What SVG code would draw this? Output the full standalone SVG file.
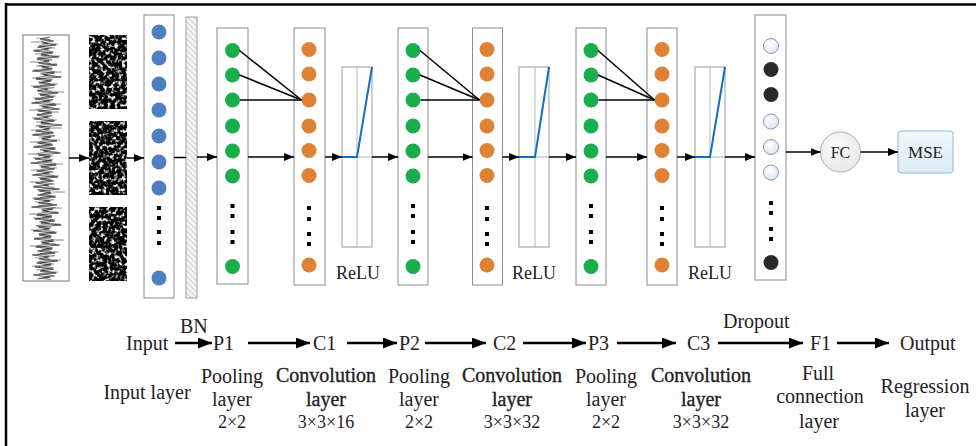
<svg xmlns="http://www.w3.org/2000/svg" xmlns:xlink="http://www.w3.org/1999/xlink" width="976" height="446" viewBox="0 0 976 446">
<style>
.col{fill:#fff;stroke:#8c8c8c;stroke-width:1}
.relu{fill:#fff;stroke:#9a9a9a;stroke-width:1}
.axis{stroke:#b5b5b5;stroke-width:1;fill:none}
.rl{stroke:#1170c4;stroke-width:2;fill:none}
.blue{fill:#4f7fc0}
.green{fill:#1aad4b}
.orange{fill:#df8236}
.wd{fill:url(#wg);stroke:#8898b4;stroke-width:1}
.bd{fill:#2a2a2a}
.dot{fill:#000}
.ln{stroke:#000;stroke-width:1.5;fill:none}
.ar{stroke:#000;stroke-width:1.5;fill:none;marker-end:url(#ah)}
.br{stroke:#000;stroke-width:2.5;fill:none;marker-end:url(#ahb)}
text{font-family:"Liberation Serif","Times New Roman",serif;fill:#222}
.t20{font-size:20px}
.t18{font-size:18px}
.bold{font-size:20px;stroke:#222;stroke-width:0.35}
.c{text-anchor:middle}
</style>
<defs>
<marker id="ah" markerUnits="userSpaceOnUse" markerWidth="10" markerHeight="8" refX="10" refY="4" orient="auto"><path d="M0,0 L10,4 L0,8 z" fill="#000"/></marker>
<marker id="ahb" markerUnits="userSpaceOnUse" markerWidth="14" markerHeight="11" refX="14" refY="5.5" orient="auto"><path d="M0,0 L14,5.5 L0,11 z" fill="#000"/></marker>
<radialGradient id="wg" cx="0.4" cy="0.35" r="0.7"><stop offset="0" stop-color="#ffffff"/><stop offset="1" stop-color="#dbe4f2"/></radialGradient>
<radialGradient id="fcg" cx="0.4" cy="0.35" r="0.75"><stop offset="0" stop-color="#fbfbfb"/><stop offset="1" stop-color="#e6e6e6"/></radialGradient>
<linearGradient id="mseg" x1="0" y1="0" x2="0" y2="1"><stop offset="0" stop-color="#f1f8fb"/><stop offset="1" stop-color="#d9ecf4"/></linearGradient>
<pattern id="hatch" patternUnits="userSpaceOnUse" width="4" height="4" patternTransform="rotate(-45)"><rect width="4" height="4" fill="#f4f4f4"/><line x1="0" y1="0" x2="0" y2="4" stroke="#b8b8b8" stroke-width="1.2"/></pattern>
<filter id="speckle" x="0" y="0" width="1" height="1" color-interpolation-filters="sRGB">
<feTurbulence type="fractalNoise" baseFrequency="0.27" numOctaves="2" seed="5" result="n"/>
<feColorMatrix in="n" type="matrix" values="4 0 0 0 -1.95  4 0 0 0 -1.95  4 0 0 0 -1.95  0 0 0 0 1" result="m"/>
<feComposite in="m" in2="SourceGraphic" operator="in"/>
</filter>
<path id="wave" d="M51,37 L39,39 55,41 42,43 58,45 36,47 49,49 32,51 54,53 40,55 61,57 35,59 50,61 37,63 59,65 41,67 53,69 30,71 56,73 43,75 64,77 34,79 52,81 38,83 57,85 31,87 48,89 36,91 60,93 39,95 55,97 33,99 51,101 29,103 58,105 42,107 62,109 37,111 53,113 35,115 49,117 32,119 56,121 40,123 65,125 38,127 50,129 34,131 55,133 30,135 52,137 41,139 59,141 36,143 54,145 31,147 57,149 43,151 63,153 37,155 51,157 33,159 53,161 28,163 58,165 40,167 56,169 35,171 50,173 30,175 60,177 39,179 55,181 34,183 49,185 31,187 62,189 38,191 52,193 36,195 57,197 32,199 51,201 37,203 59,205 29,207 54,209 42,211 61,213 35,215 53,217 33,219 56,221 40,223 64,225 37,227 50,229 31,231 58,233 38,235 52,237 32,239 55,241 41,243 62,245 34,247 53,249 36,251 57,253 30,255 49,257 38,259 60,261 35,263 52,265 33,267 55,269 39,271 58,273 31,275 51,277 36,279"/>
</defs>
<rect width="976" height="446" fill="#fff"/>
<g id="frame"><line x1="5" y1="4.5" x2="976" y2="4.5" stroke="#000" stroke-width="2.5"/><line x1="6" y1="3" x2="6" y2="446" stroke="#000" stroke-width="2.5"/></g>

<g id="signal">
<rect x="23" y="35" width="46" height="246" fill="#fff" stroke="#777" stroke-width="1"/>
<use xlink:href="#wave" transform="matrix(1 0 0 -1 0 317)" fill="none" stroke="#a8a8a8" stroke-width="0.8"/>
<use xlink:href="#wave" transform="matrix(-0.55 0 0 1 71.3 0.7)" fill="none" stroke="#555" stroke-width="0.7"/>
<use xlink:href="#wave" transform="matrix(0.85 0 0 1 6.9 0)" fill="none" stroke="#111" stroke-width="0.7"/>
</g>
<g id="noise">
<rect x="89" y="35" width="38" height="74" fill="#000" filter="url(#speckle)"/>
<rect x="89" y="121" width="38" height="74" fill="#000" filter="url(#speckle)"/>
<rect x="89" y="207" width="38" height="74" fill="#000" filter="url(#speckle)"/>
</g>
<g id="input-col">
<rect class="col" x="144" y="15" width="30" height="283"/>
<g class="blue"><circle cx="159" cy="32" r="7.5"/><circle cx="159" cy="58" r="7.5"/><circle cx="159" cy="84" r="7.5"/><circle cx="159" cy="110" r="7.5"/><circle cx="159" cy="136" r="7.5"/><circle cx="159" cy="162" r="7.5"/><circle cx="159" cy="188" r="7.5"/><circle cx="159" cy="278" r="7.5"/></g>
<g class="dot"><rect x="157" y="206" width="4" height="4"/><rect x="157" y="216" width="4" height="4"/><rect x="157" y="230" width="4" height="4"/><rect x="157" y="241" width="4" height="4"/></g>
</g>
<g id="bn"><rect x="186" y="17" width="11" height="281" fill="url(#hatch)" stroke="#a0a0a0" stroke-width="1"/></g>

<g id="p1">
<rect class="col" x="217" y="28" width="31" height="256"/>
<g class="green"><circle cx="232.5" cy="50.5" r="7.5"/><circle cx="232.5" cy="75" r="7.5"/><circle cx="232.5" cy="100" r="7.5"/><circle cx="232.5" cy="126" r="7.5"/><circle cx="232.5" cy="151" r="7.5"/><circle cx="232.5" cy="176" r="7.5"/><circle cx="232.5" cy="266.5" r="7.5"/></g>
<g class="dot"><rect x="230.5" y="204" width="4" height="4"/><rect x="230.5" y="214" width="4" height="4"/><rect x="230.5" y="230" width="4" height="4"/><rect x="230.5" y="240" width="4" height="4"/></g>
</g>
<g id="c1">
<rect class="col" x="294" y="28" width="31" height="257"/>
<g class="orange"><circle cx="309" cy="49.5" r="7.5"/><circle cx="309" cy="74" r="7.5"/><circle cx="309" cy="100" r="7.5"/><circle cx="309" cy="126" r="7.5"/><circle cx="309" cy="150.5" r="7.5"/><circle cx="309" cy="175.5" r="7.5"/><circle cx="309" cy="265" r="7.5"/></g>
<g class="dot"><rect x="307" y="206" width="4" height="4"/><rect x="307" y="217" width="4" height="4"/><rect x="307" y="232" width="4" height="4"/><rect x="307" y="242" width="4" height="4"/></g>
</g>
<g id="relu1">
<rect class="relu" x="342" y="67" width="30" height="180"/>
<line class="axis" x1="357" y1="67" x2="357" y2="247"/><line class="axis" x1="342" y1="157" x2="372" y2="157"/>
<path class="rl" d="M342,157 L357,157 L372,67"/>
<text class="t18 c" x="358" y="279">ReLU</text>
</g>

<g id="p2">
<rect class="col" x="398" y="28" width="30" height="257"/>
<g class="green"><circle cx="413" cy="50.5" r="7.5"/><circle cx="413" cy="75" r="7.5"/><circle cx="413" cy="100" r="7.5"/><circle cx="413" cy="126" r="7.5"/><circle cx="413" cy="151" r="7.5"/><circle cx="413" cy="176" r="7.5"/><circle cx="413" cy="266.5" r="7.5"/></g>
<g class="dot"><rect x="411" y="204" width="4" height="4"/><rect x="411" y="214" width="4" height="4"/><rect x="411" y="230" width="4" height="4"/><rect x="411" y="240" width="4" height="4"/></g>
</g>
<g id="c2">
<rect class="col" x="472.5" y="28" width="30" height="257"/>
<g class="orange"><circle cx="487" cy="49.5" r="7.5"/><circle cx="487" cy="74" r="7.5"/><circle cx="487" cy="100" r="7.5"/><circle cx="487" cy="126" r="7.5"/><circle cx="487" cy="150.5" r="7.5"/><circle cx="487" cy="175.5" r="7.5"/><circle cx="487" cy="265" r="7.5"/></g>
<g class="dot"><rect x="485" y="206" width="4" height="4"/><rect x="485" y="217" width="4" height="4"/><rect x="485" y="232" width="4" height="4"/><rect x="485" y="242" width="4" height="4"/></g>
</g>
<g id="relu2">
<rect class="relu" x="519" y="67" width="30" height="180"/>
<line class="axis" x1="535" y1="67" x2="535" y2="247"/><line class="axis" x1="519" y1="157" x2="549" y2="157"/>
<path class="rl" d="M519,157 L535,157 L549,67"/>
<text class="t18 c" x="534" y="279">ReLU</text>
</g>

<g id="p3">
<rect class="col" x="576" y="28" width="30" height="257"/>
<g class="green"><circle cx="591" cy="50.5" r="7.5"/><circle cx="591" cy="75" r="7.5"/><circle cx="591" cy="100" r="7.5"/><circle cx="591" cy="126" r="7.5"/><circle cx="591" cy="151" r="7.5"/><circle cx="591" cy="176" r="7.5"/><circle cx="591" cy="266.5" r="7.5"/></g>
<g class="dot"><rect x="589" y="204" width="4" height="4"/><rect x="589" y="214" width="4" height="4"/><rect x="589" y="230" width="4" height="4"/><rect x="589" y="240" width="4" height="4"/></g>
</g>
<g id="c3">
<rect class="col" x="647" y="28" width="30" height="257"/>
<g class="orange"><circle cx="662" cy="49.5" r="7.5"/><circle cx="662" cy="74" r="7.5"/><circle cx="662" cy="100" r="7.5"/><circle cx="662" cy="126" r="7.5"/><circle cx="662" cy="150.5" r="7.5"/><circle cx="662" cy="175.5" r="7.5"/><circle cx="662" cy="265" r="7.5"/></g>
<g class="dot"><rect x="660" y="206" width="4" height="4"/><rect x="660" y="217" width="4" height="4"/><rect x="660" y="232" width="4" height="4"/><rect x="660" y="242" width="4" height="4"/></g>
</g>
<g id="relu3">
<rect class="relu" x="695" y="67" width="30" height="180"/>
<line class="axis" x1="710" y1="67" x2="710" y2="247"/><line class="axis" x1="695" y1="157" x2="725" y2="157"/>
<path class="rl" d="M695,157 L710,157 L725,67"/>
<text class="t18 c" x="710" y="279">ReLU</text>
</g>

<g id="dropout">
<rect class="col" x="755" y="15" width="31" height="265"/>
<circle class="wd" cx="771" cy="46" r="7.5"/><circle class="bd" cx="771" cy="69.5" r="7.5"/><circle class="bd" cx="771" cy="94.5" r="7.5"/><circle class="wd" cx="771" cy="121.5" r="7.5"/><circle class="wd" cx="771" cy="147" r="7.5"/><circle class="wd" cx="771" cy="172.5" r="7.5"/><circle class="bd" cx="771" cy="262.5" r="7.5"/>
<g class="dot"><rect x="769" y="201" width="4" height="4"/><rect x="769" y="211" width="4" height="4"/><rect x="769" y="227" width="4" height="4"/><rect x="769" y="237" width="4" height="4"/></g>
</g>
<g id="fc">
<circle cx="840.5" cy="152" r="20" fill="url(#fcg)" stroke="#b0b0b0" stroke-width="1"/>
<text x="840.5" y="157.5" style="font-size:16px" class="c">FC</text>
</g>
<g id="mse">
<rect x="898" y="131" width="55" height="42" rx="3" fill="url(#mseg)" stroke="#8fb9c9" stroke-width="1"/>
<text x="925.5" y="158" style="font-size:17px" class="c">MSE</text>
</g>

<g id="connectors">
<line class="ln" x1="239.5" y1="50.5" x2="301.5" y2="100"/><line class="ln" x1="239.5" y1="75" x2="301.5" y2="100"/><line class="ln" x1="240" y1="100" x2="301.5" y2="100"/>
<line class="ln" x1="420" y1="50.5" x2="479.5" y2="100"/><line class="ln" x1="420" y1="75" x2="479.5" y2="100"/><line class="ln" x1="420.5" y1="100" x2="479.5" y2="100"/>
<line class="ln" x1="598" y1="50.5" x2="654.5" y2="100"/><line class="ln" x1="598" y1="75" x2="654.5" y2="100"/><line class="ln" x1="598.5" y1="100" x2="654.5" y2="100"/>
<line class="ar" x1="69" y1="158" x2="89" y2="158"/>
<line class="ar" x1="127" y1="158" x2="144" y2="158"/>
<line class="ln" x1="174" y1="157.5" x2="186" y2="157.5"/>
<line class="ar" x1="197" y1="157" x2="217" y2="157"/>
<line class="ar" x1="248" y1="157" x2="294" y2="157"/>
<line class="ar" x1="325" y1="157" x2="342" y2="157"/>
<line class="ar" x1="372" y1="157" x2="398" y2="157"/>
<line class="ar" x1="428" y1="157" x2="472.5" y2="157"/>
<line class="ar" x1="502.5" y1="157" x2="519" y2="157"/>
<line class="ar" x1="549" y1="157" x2="576" y2="157"/>
<line class="ar" x1="606" y1="157" x2="647" y2="157"/>
<line class="ar" x1="677" y1="157" x2="695" y2="157"/>
<line class="ar" x1="725" y1="157" x2="755" y2="157"/>
<line class="ar" x1="786" y1="152" x2="820.5" y2="152"/>
<line class="ar" x1="860.5" y1="152" x2="898" y2="152"/>
<line class="br" x1="175" y1="343" x2="212" y2="343"/>
<line class="br" x1="248" y1="343" x2="310" y2="343"/>
<line class="br" x1="347" y1="343" x2="397" y2="343"/>
<line class="br" x1="425" y1="343" x2="486" y2="343"/>
<line class="br" x1="523" y1="343" x2="586" y2="343"/>
<line class="br" x1="617" y1="343" x2="676" y2="343"/>
<line class="br" x1="718" y1="343" x2="803" y2="343"/>
<line class="br" x1="837" y1="343" x2="889" y2="343"/>
</g>

<g id="labels" class="t20">
<text x="126" y="350">Input</text>
<text x="180" y="333">BN</text>
<text x="213" y="350">P1</text>
<text x="313" y="350">C1</text>
<text x="399" y="350">P2</text>
<text x="493" y="350">C2</text>
<text x="588" y="350">P3</text>
<text x="687" y="350">C3</text>
<text x="723" y="328">Dropout</text>
<text x="810" y="350">F1</text>
<text x="900" y="350">Output</text>

<text class="c" x="147" y="399">Input layer</text>
<text class="c" x="232" y="383">Pooling</text><text class="c" x="232" y="406">layer</text><text class="t18 c" x="232" y="428">2×2</text>
<text class="bold c" x="326" y="382">Convolution</text><text class="bold c" x="326" y="406">layer</text><text class="t18 c" x="326" y="428">3×3×16</text>
<text class="c" x="419" y="383">Pooling</text><text class="c" x="419" y="406">layer</text><text class="t18 c" x="419" y="428">2×2</text>
<text class="bold c" x="512" y="382">Convolution</text><text class="bold c" x="512" y="406">layer</text><text class="t18 c" x="512" y="428">3×3×32</text>
<text class="c" x="606" y="383">Pooling</text><text class="c" x="606" y="406">layer</text><text class="t18 c" x="606" y="428">2×2</text>
<text class="bold c" x="701" y="382">Convolution</text><text class="bold c" x="701" y="406">layer</text><text class="t18 c" x="701" y="428">3×3×32</text>
<text class="c" x="818" y="380">Full</text><text class="c" x="820" y="403">connection</text><text class="c" x="819" y="428">layer</text>
<text class="c" x="925" y="393">Regression</text><text class="c" x="925" y="417">layer</text>
</g>
</svg>
